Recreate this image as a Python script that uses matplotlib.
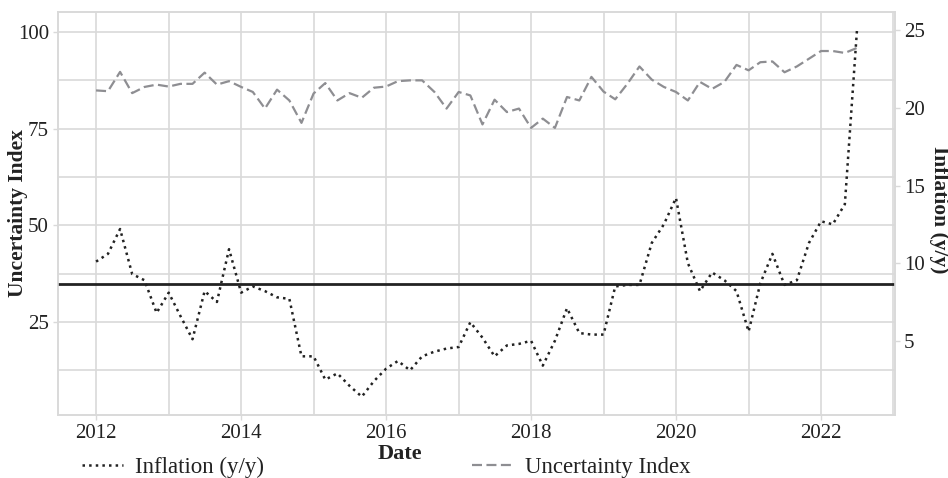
import matplotlib
matplotlib.use('Agg')
import matplotlib.pyplot as plt
import matplotlib.dates as mdates
from matplotlib.ticker import MultipleLocator
import pandas as pd

# bi-monthly observations, Jan 2012 .. Jul 2022
start_date = '2012-01-01'
n_obs = 64

uncertainty = [84.9, 84.7, 89.7, 84.2, 85.8, 86.4, 85.9, 86.6, 86.6, 89.5,
               86.4, 87.3, 85.8, 84.5, 80.2, 85.1, 82.3, 76.5, 84.1, 86.8,
               82.3, 84.2, 83.0, 85.6, 85.9, 87.3, 87.5, 87.5, 84.5, 80.2,
               84.5, 83.6, 76.1, 82.5, 79.3, 80.2, 75.2, 77.6, 75.2, 83.2,
               82.3, 88.4, 84.6, 82.6, 86.6, 91.1, 87.7, 85.8, 84.5, 82.3,
               87.1, 85.3, 87.1, 91.5, 90.1, 92.2, 92.4, 89.6, 91.1, 93.1,
               95.1, 95.1, 94.6, 95.9]

inflation = [10.1, 10.6, 12.2, 9.3, 8.9, 6.8, 8.1, 6.6, 5.1, 8.2,
             7.5, 10.9, 8.1, 8.5, 8.2, 7.8, 7.7, 4.0, 4.0, 2.5,
             2.9, 2.1, 1.4, 2.4, 3.2, 3.7, 3.1, 4.0, 4.3, 4.5,
             4.6, 6.2, 5.2, 4.0, 4.7, 4.8, 5.0, 3.4, 5.0, 7.1,
             5.5, 5.4, 5.4, 8.5, 8.6, 8.6, 11.3, 12.5, 14.2, 10.0,
             8.2, 9.4, 8.9, 8.2, 5.6, 8.7, 10.6, 8.6, 8.9, 11.3,
             12.7, 12.5, 13.8, 25.0]

ref_level = 8.65  # horizontal reference line (inflation axis)

dates = pd.date_range(start_date, periods=n_obs, freq='2MS')

plt.rcParams['font.family'] = ['Liberation Serif', 'DejaVu Serif']
plt.rcParams['font.size'] = 15

grid_col = '#d9d9d9'
text_col = '#222222'

fig = plt.figure(figsize=(9.48, 4.78), dpi=100)
ax = fig.add_axes([0.0612, 0.1318, 0.8829, 0.8431])
ax2 = ax.twinx()

l2, = ax.plot(dates, uncertainty, color='#8e8e92', linewidth=1.6,
              dashes=(4.5, 2.0), label='Uncertainty Index')
l1, = ax2.plot(dates, inflation, color='#222222', linewidth=1.8,
               linestyle=':', label='Inflation (y/y)')
ax2.axhline(ref_level, color='#222222', linewidth=2.0)

ax.set_ylim(0.88, 105.2)
ax.yaxis.set_major_locator(MultipleLocator(25))
ax.yaxis.set_minor_locator(MultipleLocator(12.5))
ax.yaxis.set_major_formatter(lambda v, p: '%d' % v if v > 0 else '')
ax2.yaxis.set_major_locator(MultipleLocator(5))
ax2.yaxis.set_major_formatter(lambda v, p: '%d' % v if v > 0 else '')

ax.xaxis.set_major_locator(mdates.YearLocator(2))
ax.xaxis.set_minor_locator(mdates.YearLocator(1))
ax.xaxis.set_major_formatter(mdates.DateFormatter('%Y'))

ax.grid(True, which='both', color=grid_col, linewidth=1.2)
ax.set_axisbelow(True)
ax2.grid(False)

for a in (ax, ax2):
    for s in a.spines.values():
        s.set_color(grid_col)
        s.set_linewidth(1.2)
    a.tick_params(which='both', colors=grid_col, labelcolor=text_col,
                  length=3.5, width=1.0, labelsize=15, pad=3)
ax.tick_params(axis='x', which='minor', length=0)
ax.tick_params(axis='y', which='minor', length=0)

ax.set_xlabel('Date', fontweight='bold', fontsize=16, color=text_col)
ax.xaxis.set_label_coords(0.409, -0.072)
ax.set_ylabel('Uncertainty Index', fontweight='bold', fontsize=15.5,
              color=text_col, va='center')
ax.yaxis.set_label_coords(-0.048, 0.5)
ax2.set_ylabel('Inflation (y/y)', fontweight='bold', fontsize=15.5,
               color=text_col, rotation=270, va='center')
ax2.yaxis.set_label_coords(1.052, 0.51)

# two legend entries placed separately below the axes
leg_kw = dict(loc='center left', frameon=False, fontsize=16.5, handlelength=1.8,
              handletextpad=0.5, labelcolor=text_col, borderpad=0, borderaxespad=0)
fig.legend(handles=[l1], bbox_to_anchor=(0.0865, 0.022), **leg_kw)
fig.legend(handles=[l2], bbox_to_anchor=(0.498, 0.022), **leg_kw)

fig.savefig('out.png', dpi=100)
